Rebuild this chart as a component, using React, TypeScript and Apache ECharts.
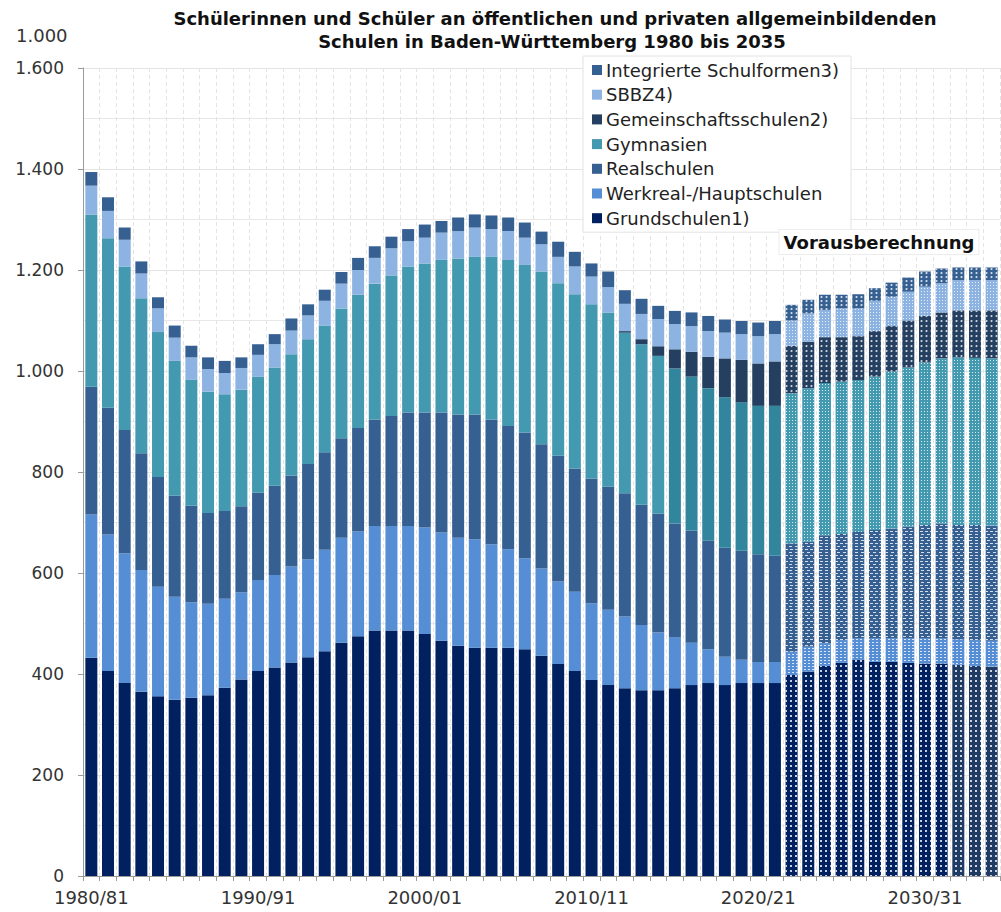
import React, { useEffect, useRef } from "react";
import * as echarts from "echarts";

const categories = [
  "1980/81", "1981/82", "1982/83", "1983/84", "1984/85", "1985/86", "1986/87", "1987/88", "1988/89", "1989/90",
  "1990/91", "1991/92", "1992/93", "1993/94", "1994/95", "1995/96", "1996/97", "1997/98", "1998/99", "1999/00",
  "2000/01", "2001/02", "2002/03", "2003/04", "2004/05", "2005/06", "2006/07", "2007/08", "2008/09", "2009/10",
  "2010/11", "2011/12", "2012/13", "2013/14", "2014/15", "2015/16", "2016/17", "2017/18", "2018/19", "2019/20",
  "2020/21", "2021/22", "2022/23", "2023/24", "2024/25", "2025/26", "2026/27", "2027/28", "2028/29", "2029/30",
  "2030/31", "2031/32", "2032/33", "2033/34", "2034/35",
];

// first category of the projection ("Vorausberechnung")
const forecastStart = "2022/23";

const grundschulen = [
  432, 406, 382, 365, 356, 349, 353, 358, 373, 389,
  406, 413, 423, 433, 445, 462, 475, 486, 486, 486,
  479, 466, 456, 452, 452, 452, 449, 436, 420, 406,
  388, 378, 372, 368, 368, 372, 378, 382, 378, 382,
  382, 382, 398, 405, 416, 422, 428, 424, 424, 422,
  421, 421, 418, 416, 415,
];
const werkrealHaupt = [
  284, 270, 257, 241, 217, 204, 189, 181, 176, 173,
  180, 183, 190, 194, 201, 208, 207, 207, 207, 207,
  211, 214, 214, 215, 205, 195, 180, 173, 163, 157,
  152, 149, 142, 129, 114, 101, 84, 67, 56, 46,
  42, 42, 46, 49, 45, 45, 43, 47, 47, 49,
  50, 50, 51, 51, 51,
];
const realschulen = [
  253, 251, 244, 231, 217, 200, 191, 180, 174, 170,
  173, 177, 180, 189, 193, 197, 205, 211, 218, 225,
  228, 238, 244, 247, 247, 244, 249, 246, 249, 244,
  247, 244, 244, 238, 236, 225, 222, 215, 216, 216,
  213, 210, 215, 208, 214, 210, 210, 214, 217, 221,
  224, 227, 226, 228, 228,
];
const gymnasien = [
  341, 336, 324, 307, 287, 267, 250, 240, 231, 231,
  230, 234, 240, 247, 251, 257, 264, 269, 278, 289,
  295, 302, 309, 312, 322, 329, 332, 342, 342, 345,
  345, 345, 318, 318, 312, 307, 305, 302, 298, 294,
  294, 297, 297, 304, 301, 302, 301, 304, 311, 315,
  322, 327, 332, 331, 331,
];
const gemeinschaftsschulen = [
  0, 0, 0, 0, 0, 0, 0, 0, 0, 0,
  0, 0, 0, 0, 0, 0, 0, 0, 0, 0,
  0, 0, 0, 0, 0, 0, 0, 0, 0, 0,
  0, 0, 3, 10, 19, 38, 49, 62, 77, 84,
  84, 88, 94, 92, 91, 88, 87, 90, 90, 93,
  92, 91, 93, 94, 95,
];
const sbbz = [
  57, 54, 53, 49, 47, 46, 44, 45, 42, 43,
  43, 46, 47, 47, 49, 49, 49, 51, 54, 50,
  51, 54, 54, 58, 55, 57, 54, 54, 52, 55,
  55, 50, 54, 50, 54, 50, 51, 51, 51, 51,
  54, 54, 50, 56, 54, 57, 55, 60, 58, 57,
  58, 58, 60, 60, 60,
];
const integrierte = [
  27, 27, 24, 24, 22, 24, 23, 23, 24, 21,
  21, 20, 24, 22, 22, 23, 24, 23, 23, 24,
  26, 23, 27, 26, 27, 27, 30, 25, 30, 29,
  26, 31, 27, 30, 26, 26, 27, 30, 26, 26,
  27, 26, 31, 27, 30, 27, 28, 25, 28, 28,
  30, 29, 25, 25, 25,
];

const yTicks = [0, 200, 400, 600, 800, 1000, 1200, 1400, 1600];
const xLabelEvery = 10;

const names = {
  grund: "Grundschulen1)",
  werk: "Werkreal-/Hauptschulen",
  real: "Realschulen",
  gym: "Gymnasien",
  gem: "Gemeinschaftsschulen2)",
  sbbz: "SBBZ4)",
  int: "Integrierte Schulformen3)",
};

const fmt = (v: number) =>
  v >= 1000 ? `${Math.floor(v / 1000)}.${String(v % 1000).padStart(3, "0")}` : String(v);

const FONT = "DejaVu Sans";

export default function App() {
  const ref = useRef<HTMLDivElement>(null);

  useEffect(() => {
    if (!ref.current) return;
    const chart = echarts.init(ref.current, undefined, { renderer: "svg" });
    const fIdx = categories.indexOf(forecastStart);

    const W = "rgba(255,255,255,0.78)";
    const decals: Record<string, any> = {
      grund: { symbol: "rect", symbolSize: 1, color: W, dashArrayX: [2, 3], dashArrayY: [2, 3] },
      werk: { symbol: "rect", symbolSize: 1, color: W, dashArrayX: [2, 2], dashArrayY: [1, 2] },
      real: { symbol: "rect", symbolSize: 1, color: W, dashArrayX: [[3, 2], [0, 2.5, 3, 0]], dashArrayY: [1, 2] },
      gym: { symbol: "rect", symbolSize: 1, color: W, dashArrayX: [1, 2], dashArrayY: [1, 2] },
      gem: { symbol: "circle", symbolSize: 1, color: W, dashArrayX: [3, 2], dashArrayY: [2, 3] },
      sbbz: { symbol: "rect", symbolSize: 1, color: W, dashArrayX: [1, 2], dashArrayY: [1, 2] },
      int: { symbol: "circle", symbolSize: 1, color: W, dashArrayX: [3, 2], dashArrayY: [2, 2] },
    };

    const mk = (key: string, name: string, values: number[], color: string, itemColor?: (i: number) => string | undefined) => ({
      name,
      type: "bar",
      stack: "total",
      barWidth: 12,
      itemStyle: { color },
      emphasis: { disabled: true },
      data: values.map((v, i) => {
        const st: any = {};
        const c = itemColor ? itemColor(i) : undefined;
        if (c) st.color = c;
        if (i >= fIdx) st.decal = decals[key];
        return { value: v, itemStyle: st };
      }),
    });

    const series = [
      mk("grund", names.grund, grundschulen, "#002060", (i) => (i >= 52 ? "#1f3b63" : undefined)),
      mk("werk", names.werk, werkrealHaupt, "#558ed5"),
      mk("real", names.real, realschulen, "#366092"),
      mk("gym", names.gym, gymnasien, "#4399b0", (i) => (i >= 35 && i < fIdx ? "#31859c" : undefined)),
      mk("gem", names.gem, gemeinschaftsschulen, "#243f60"),
      mk("sbbz", names.sbbz, sbbz, "#8db3e2"),
      mk("int", names.int, integrierte, "#366092"),
    ];

    chart.setOption({
      animation: false,
      textStyle: { fontFamily: FONT },
      grid: { left: 83, right: 1, top: 68, bottom: 36 },
      legend: {
        orient: "vertical",
        left: 583,
        top: 56,
        data: [names.int, names.sbbz, names.gem, names.gym, names.real, names.werk, names.grund],
        icon: "rect",
        itemWidth: 10,
        itemHeight: 10,
        itemGap: 6.7,
        selectedMode: false,
        backgroundColor: "#ffffff",
        borderColor: "#e2e2e2",
        borderWidth: 1,
        padding: [5, 12, 5, 9],
        textStyle: { fontFamily: FONT, fontSize: 18, color: "#222", padding: [0, 0, 0, -1] },
      },
      xAxis: {
        type: "category",
        data: categories,
        axisLine: { lineStyle: { color: "#9a9a9a" } },
        axisTick: { show: true, interval: 0, length: 5, lineStyle: { color: "#9a9a9a" } },
        axisLabel: {
          interval: xLabelEvery - 1,
          color: "#333",
          fontSize: 18,
          margin: 12,
          fontFamily: FONT,
        },
        splitLine: { show: true, interval: 0, lineStyle: { color: "#e4e4e4", type: [4, 3] } },
      },
      yAxis: {
        type: "value",
        min: yTicks[0],
        max: yTicks[yTicks.length - 1],
        interval: yTicks[1] - yTicks[0],
        axisLine: { show: true, lineStyle: { color: "#9a9a9a" } },
        axisTick: { show: true, length: 5, lineStyle: { color: "#9a9a9a" } },
        axisLabel: { formatter: fmt, color: "#333", fontSize: 17, margin: 19, fontFamily: FONT },
        splitLine: { show: true, lineStyle: { color: "#e4e4e4" } },
        minorTick: { show: false, splitNumber: 2 },
        minorSplitLine: { show: true, lineStyle: { color: "#e8e8e8" } },
      },
      graphic: [
        {
          type: "text",
          left: 16,
          top: 26,
          style: { text: "1.000", fontFamily: FONT, fontSize: 18, fill: "#333" },
        },
        {
          type: "text",
          x: 555,
          y: 18,
          style: {
            text: "Schülerinnen und Schüler an öffentlichen und privaten allgemeinbildenden",
            fontFamily: FONT,
            fontSize: 18,
            fontWeight: "bold",
            fill: "#111",
            align: "center",
            verticalAlign: "middle",
          },
        },
        {
          type: "text",
          x: 552,
          y: 41,
          style: {
            text: "Schulen in Baden-Württemberg 1980 bis 2035",
            fontFamily: FONT,
            fontSize: 18,
            fontWeight: "bold",
            fill: "#111",
            align: "center",
            verticalAlign: "middle",
          },
        },
        {
          type: "text",
          x: 879,
          y: 242,
          z: 100,
          style: {
            text: "Vorausberechnung",
            fontFamily: FONT,
            fontSize: 18,
            fontWeight: "bold",
            fill: "#111",
            align: "center",
            verticalAlign: "middle",
            backgroundColor: "#ffffff",
            borderColor: "#ececec",
            borderWidth: 1,
            padding: [3, 4, 3, 4],
          },
        },
      ],
      series,
    });
    return () => chart.dispose();
  }, []);

  return (
    <div
      ref={ref}
      style={{ position: "absolute", left: 0, top: 0, width: 1001, height: 912, background: "#fff" }}
    />
  );
}
